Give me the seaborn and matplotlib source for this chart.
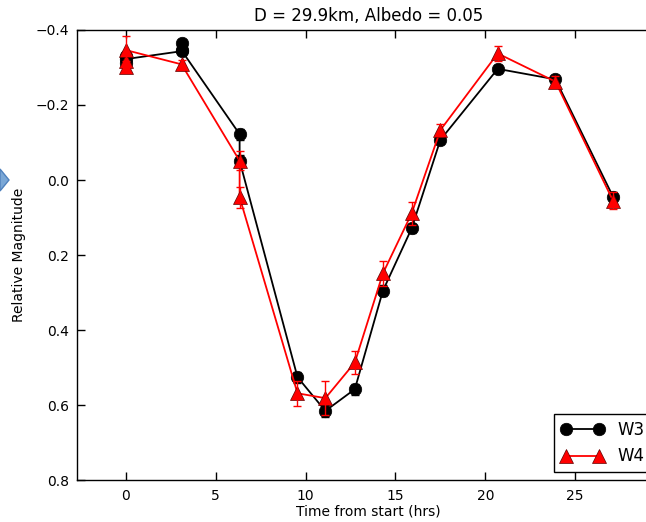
import matplotlib
matplotlib.use("Agg")
import matplotlib.pyplot as plt
from matplotlib.patches import Polygon
import seaborn as sns
import pandas as pd

# ---- data ----
w3_time = [0.0, 0.0, 0.0, 3.1, 3.1, 3.1, 6.33, 6.33, 9.55, 11.1, 12.74, 14.3, 15.9, 17.5, 20.69, 23.9, 27.1]
w3_mag = [-0.312, -0.33, -0.322, -0.343, -0.364, -0.345, -0.122, -0.051, 0.525, 0.615, 0.557, 0.295, 0.129, -0.107, -0.296, -0.268, 0.044]
w3_err = [0.012, 0.012, 0.012, 0.01, 0.01, 0.01, 0.015, 0.015, 0.015, 0.015, 0.015, 0.015, 0.012, 0.01, 0.01, 0.01, 0.012]

w4_time = [0.0, 0.0, 0.0, 3.1, 6.33, 6.33, 9.55, 11.1, 12.74, 14.3, 15.9, 17.5, 20.69, 23.9, 27.1]
w4_mag = [-0.302, -0.318, -0.346, -0.308, -0.051, 0.046, 0.568, 0.581, 0.486, 0.249, 0.089, -0.133, -0.337, -0.262, 0.055]
w4_err = [0.015, 0.02, 0.037, 0.012, 0.025, 0.028, 0.034, 0.045, 0.03, 0.033, 0.03, 0.015, 0.02, 0.015, 0.023]

title = "D = 29.9km, Albedo = 0.05"
xlabel = "Time from start (hrs)"
ylabel = "Relative Magnitude"
yticks = [-0.4, -0.2, 0.0, 0.2, 0.4, 0.6, 0.8]
xticks = [0, 5, 10, 15, 20, 25]

sns.set_style("ticks", {"xtick.direction": "in", "ytick.direction": "in"})
plt.rcParams["font.family"] = ["DejaVu Sans"]
plt.rcParams["text.color"] = "black"
plt.rcParams["axes.labelcolor"] = "black"

W, H = 646, 522
fig = plt.figure(figsize=(W / 100, H / 100), dpi=100)
ax = fig.add_axes([77.3 / W, 1 - 480.4 / H, (659.7 - 77.3) / W, (480.4 - 29.8) / H])

df3 = pd.DataFrame({"t": w3_time, "m": w3_mag})
df4 = pd.DataFrame({"t": w4_time, "m": w4_mag})

ax.errorbar(w3_time, w3_mag, yerr=w3_err, fmt="none", ecolor="black", elinewidth=1, capsize=3, zorder=2)
sns.lineplot(data=df3, x="t", y="m", sort=False, estimator=None, color="black", lw=1.3,
             marker="o", markersize=9, markeredgecolor="black", markeredgewidth=0.5,
             label="W3", ax=ax, zorder=3)
sns.lineplot(data=df4, x="t", y="m", sort=False, estimator=None, color="red", lw=1.3,
             marker="^", markersize=10, markeredgecolor="#600000", markeredgewidth=0.5,
             label="W4", ax=ax, zorder=4)
ax.errorbar(w4_time, w4_mag, yerr=w4_err, fmt="none", ecolor="red", elinewidth=1, capsize=3, zorder=5)

ax.set_xlim(-2.7, 29.7)
ax.set_ylim(0.8, -0.4)
ax.set_xticks(xticks)
ax.set_yticks(yticks)
ax.set_yticklabels([f"{v:.1f}".replace("-", "\u2212") for v in yticks])
ax.tick_params(axis="both", which="both", top=True, right=True, length=6, width=1,
               labelsize=10, pad=6, colors="black")
for s in ax.spines.values():
    s.set_color("black")
    s.set_linewidth(1)

ax.set_title(title, fontsize=12, pad=6, color="black")
ax.set_xlabel(xlabel, fontsize=10, labelpad=1)
ax.set_ylabel(ylabel, fontsize=10, labelpad=7)

leg = ax.legend(loc="lower right", numpoints=2, fancybox=False, edgecolor="black", framealpha=1,
                fontsize=12, handlelength=2.6, borderaxespad=0.5)
leg.get_frame().set_linewidth(1)

# decorative arrow fragment at left edge
arrow = Polygon([(0 / W, 1 - 169 / H), (9 / W, 1 - 180 / H), (0 / W, 1 - 191 / H)],
                closed=True, transform=fig.transFigure, facecolor="#7aa7d6",
                edgecolor="#4f81bd", lw=1, clip_on=False)
fig.patches.append(arrow)

fig.savefig("out.png", dpi=100)
